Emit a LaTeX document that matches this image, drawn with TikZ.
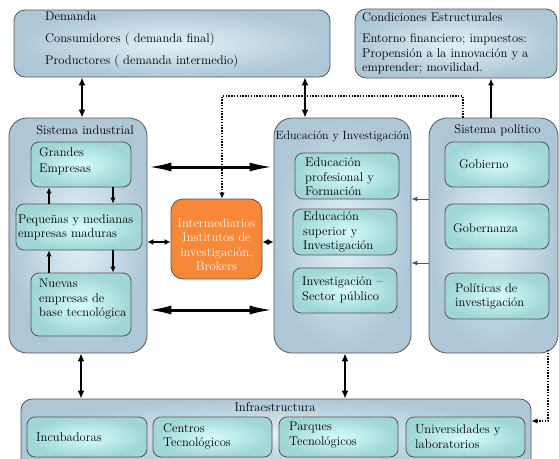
\documentclass[tikz,border=0pt]{standalone}
\usepackage{fontspec}
\usetikzlibrary{arrows.meta}
\definecolor{outerA}{RGB}{174,199,214}
\definecolor{outerB}{RGB}{226,242,248}
\definecolor{innerA}{RGB}{160,214,214}
\definecolor{innerB}{RGB}{214,252,252}
\definecolor{edge}{RGB}{85,85,85}
\definecolor{orangefill}{RGB}{246,136,56}
\tikzset{
  outerbox/.style={draw=edge, line width=0.8pt, shade, inner color=outerB, outer color=outerA, rounded corners=18pt, inner sep=0pt},
  topbox/.style={outerbox, rounded corners=11pt},
  innerbox/.style={draw=edge, line width=0.8pt, shade, inner color=innerB, outer color=innerA, rounded corners=8pt, inner sep=0pt},
  orangebox/.style={draw=edge, line width=0.8pt, fill=orangefill, rounded corners=12pt, inner sep=0pt},
  txt/.style={font=\fontsize{12.6}{14.5}\selectfont, align=left, inner sep=0pt, text=black},
  ttl/.style={font=\fontsize{12.6}{14.5}\selectfont, inner sep=0pt, text=black},
  bigdbl/.style={line width=3pt, {Latex[length=24pt,width=9pt]}-{Latex[length=24pt,width=9pt]}},
  thkdbl/.style={line width=2.8pt, {Latex[length=8pt,width=7pt]}-{Latex[length=8pt,width=7pt]}},
  smdbl/.style={line width=2.2pt, {Latex[length=6pt,width=6pt]}-{Latex[length=6pt,width=6pt]}},
  intarr/.style={line width=1.4pt, -{Latex[length=6pt,width=5.5pt]}},
  uparr/.style={line width=1.4pt, -{Latex[length=7pt,width=6pt]}},
  polarr/.style={line width=0.9pt, draw=edge, -{Latex[length=6pt,width=5pt]}},
  dotarr/.style={line width=1.4pt, dash pattern=on 1.4pt off 1.4pt, -{Latex[length=6pt,width=5.5pt]}}
}
\begin{document}
\begin{tikzpicture}[x=1pt,y=-1pt]
\useasboundingbox (0,0) rectangle (559,458);
% top boxes
\node[topbox, minimum width=316pt, minimum height=67pt] (dem) at (172,43.5) {};
\node[txt, anchor=west, font=\fontsize{12.6}{22}\selectfont] (demT) at (45,40) {Demanda\\Consumidores ( demanda final)\\Productores ( demanda intermedio)};
\node[topbox, minimum width=202pt, minimum height=69pt] (cond) at (456,43.5) {};
\node[txt, anchor=west] (condT) at (362,17.5) {Condiciones Estructurales};
\node[txt, anchor=west] (condB) at (362,54) {Entorno financiero; impuestos:\\Propensión a la innovación y a\\emprender; movilidad.};
% main columns
\node[outerbox, minimum width=138pt, minimum height=235pt] (sind) at (78,235.5) {};
\node[ttl] (sindT) at (85,130) {Sistema industrial};
\node[outerbox, minimum width=137pt, minimum height=235pt] (edu) at (342.5,235.5) {};
\node[ttl, font=\fontsize{12}{14.5}\selectfont] (eduT) at (342.5,137) {Educación y Investigación};
\node[outerbox, minimum width=129pt, minimum height=235pt] (spol) at (493.5,235.5) {};
\node[ttl] (spolT) at (497.5,130) {Sistema político};
\node[outerbox, rounded corners=11pt, minimum width=510pt, minimum height=71pt] (infra) at (276,434.5) {};
\node[ttl] (infraT) at (275,407.5) {Infraestructura};
% industrial
\node[innerbox, minimum width=100pt, minimum height=45pt] (ge) at (81,164.5) {};
\node[txt, anchor=west, font=\fontsize{12.6}{16}\selectfont] (geT) at (39,161) {Grandes\\Empresas};
\node[innerbox, minimum width=126pt, minimum height=46pt] (pym) at (79,227) {};
\node[txt, anchor=west] (pymT) at (18,227.5) {Pequeñas y medianas\\empresas maduras};
\node[innerbox, minimum width=100pt, minimum height=63pt] (nue) at (81,304.5) {};
\node[txt, anchor=west] (nueT) at (39,299) {Nuevas\\empresas de\\base tecnológica};
% intermediarios
\node[orangebox, minimum width=91pt, minimum height=80pt] (inter) at (216.5,239) {};
\node[txt, align=center, text={rgb,255:red,255;green,244;blue,232}] (interT) at (216.5,244.5) {Intermediarios\\Institutos de\\investigación,\\Brokers};
% educacion
\node[innerbox, minimum width=104pt, minimum height=46pt] (ep) at (347,176) {};
\node[txt, anchor=west] (epT) at (305,177) {Educación\\profesional y\\Formación};
\node[innerbox, minimum width=104pt, minimum height=46pt] (es) at (345,232) {};
\node[txt, anchor=west] (esT) at (303,232) {Educación\\superior y\\Investigación};
\node[innerbox, minimum width=104pt, minimum height=45pt] (ip) at (345,290.5) {};
\node[txt, anchor=west] (ipT) at (302,290) {Investigación –\\Sector público};
% politico
\node[innerbox, minimum width=104pt, minimum height=45pt] (gob) at (497,164.5) {};
\node[txt, anchor=west] (gobT) at (459,164) {Gobierno};
\node[innerbox, minimum width=104pt, minimum height=45pt] (gobz) at (497,226.5) {};
\node[txt, anchor=west] (gobzT) at (453,228) {Gobernanza};
\node[innerbox, minimum width=104pt, minimum height=46pt] (pol) at (497,296) {};
\node[txt, anchor=west] (polT) at (455,296.5) {Políticas de\\investigación};
% infraestructura
\node[innerbox, minimum width=120pt, minimum height=40pt] (inc) at (87,437) {};
\node[txt, anchor=west] (incT) at (36,437) {Incubadoras};
\node[innerbox, minimum width=119pt, minimum height=40pt] (cen) at (212.5,437) {};
\node[txt, anchor=west] (cenT) at (163,436.5) {Centros\\Tecnológicos};
\node[innerbox, minimum width=119pt, minimum height=40pt] (par) at (338.5,437) {};
\node[txt, anchor=west] (parT) at (289,435) {Parques\\Tecnológicos};
\node[innerbox, minimum width=119pt, minimum height=40pt] (uni) at (465.5,437) {};
\node[txt, anchor=west] (uniT) at (415,436.5) {Universidades y\\laboratorios};
% helper coordinates
\coordinate (xA) at (82,0);
\coordinate (xB) at (305,0);
\coordinate (xC) at (81,0);
\coordinate (xD) at (345,0);
\coordinate (xE) at (491,0);
\coordinate (xL) at (49,0);
\coordinate (xR) at (113,0);
\coordinate (yA) at (0,167);
\coordinate (yB) at (0,310);
\coordinate (yC) at (0,242);
\coordinate (yD) at (0,199);
\coordinate (yE) at (0,263);
\coordinate (dA) at (463,96);
\coordinate (dB) at (222,96);
\coordinate (dD) at (548,350);
\coordinate (dC) at (548,421);
% connectors
\draw[thkdbl] (dem.south -| xA) -- (sind.north -| xA);
\draw[thkdbl] (dem.south -| xB) -- (edu.north -| xB);
\draw[thkdbl] (sind.south -| xC) -- (infra.north -| xC);
\draw[thkdbl] (edu.south -| xD) -- (infra.north -| xD);
\draw[uparr] (spol.north -| xE) -- (cond.south -| xE);
\draw[bigdbl] (sind.east |- yA) -- (edu.west |- yA);
\draw[bigdbl] (sind.east |- yB) -- (edu.west |- yB);
\draw[smdbl] (sind.east |- yC) -- (inter.west |- yC);
\draw[smdbl] (inter.east |- yC) -- (edu.west |- yC);
\draw[polarr] (spol.west |- yD) -- (edu.east |- yD);
\draw[polarr] (spol.west |- yE) -- (edu.east |- yE);
\draw[intarr] (pym.north -| xL) -- (ge.south -| xL);
\draw[intarr] (ge.south -| xR) -- (pym.north -| xR);
\draw[intarr] (nue.north -| xL) -- (pym.south -| xL);
\draw[intarr] (pym.south -| xR) -- (nue.north -| xR);
\draw[dotarr] (spol.north -| dA) -- (dA) -- (dB) -- (inter.north -| dB);
\draw[dotarr] (dD) -- (dC) -- (infra.east |- dC);
\end{tikzpicture}
\end{document}
